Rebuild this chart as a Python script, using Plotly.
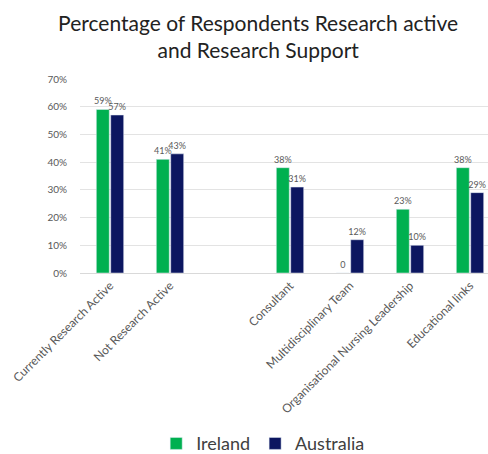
import plotly.graph_objects as go

categories = ["Currently Research Active", "Not Research Active", " ", "Consultant",
              "Multidisciplinary Team", "Organisational Nursing Leadership", "Educational links"]
ireland = [0.59, 0.41, None, 0.38, 0.0, 0.23, 0.38]
australia = [0.57, 0.43, None, 0.31, 0.12, 0.10, 0.29]
ireland_labels = ["59%", "41%", "", "38%", "0", "23%", "38%"]
australia_labels = ["57%", "43%", "", "31%", "12%", "10%", "29%"]
y_ticks = [0, 0.1, 0.2, 0.3, 0.4, 0.5, 0.6, 0.7]
y_tick_text = ["0%", "10%", "20%", "30%", "40%", "50%", "60%", "70%"]

FONT = "Lato, 'Open Sans', sans-serif"
GREEN = "#00b050"
NAVY = "#0c1660"

fig = go.Figure()
fig.add_trace(go.Bar(name="Ireland", x=categories, y=ireland, marker_color=GREEN,
                     text=ireland_labels, textposition="outside", constraintext="none",
                     cliponaxis=False,
                     textfont=dict(size=9, color="#595959", family=FONT)))
fig.add_trace(go.Bar(name="Australia", x=categories, y=australia, marker_color=NAVY,
                     text=australia_labels, textposition="outside", constraintext="none",
                     cliponaxis=False,
                     textfont=dict(size=9, color="#595959", family=FONT)))

fig.update_layout(
    width=488, height=454,
    margin=dict(l=80, r=0, t=79, b=181, autoexpand=False),
    paper_bgcolor="white", plot_bgcolor="white",
    barmode="group", bargap=0.52, bargroupgap=0.1,
    font=dict(family=FONT, color="#595959"),
    title=dict(text="Percentage of Respondents Research active<br>and Research Support",
               x=0.529, xanchor="center", y=0.932, yanchor="middle",
               font=dict(size=21, color="#222222", family=FONT)),
    showlegend=True,
    legend=dict(orientation="h", x=0.449, xanchor="center", y=-0.88, yanchor="middle",
                font=dict(size=18, color="#404040", family=FONT),
                itemwidth=30, traceorder="normal"),
    xaxis=dict(type="category", range=[-0.5, 6.3], tickangle=-45,
               tickfont=dict(size=12, color="#595959", family=FONT),
               showline=True, linecolor="#d9d9d9", linewidth=1, ticks="",
               showgrid=False, automargin=False),
    yaxis=dict(range=[0, 0.7], tickvals=y_ticks, ticktext=y_tick_text,
               tickfont=dict(size=10, color="#595959", family=FONT),
               showgrid=True, gridcolor="#e3e3e3", gridwidth=1,
               zeroline=False, showline=False, ticks="", ticklabelstandoff=12,
               automargin=False),
)

fig.write_html("out.html", config={"displayModeBar": False},
               post_script="document.body.style.margin='0';document.body.style.overflow='hidden';")
